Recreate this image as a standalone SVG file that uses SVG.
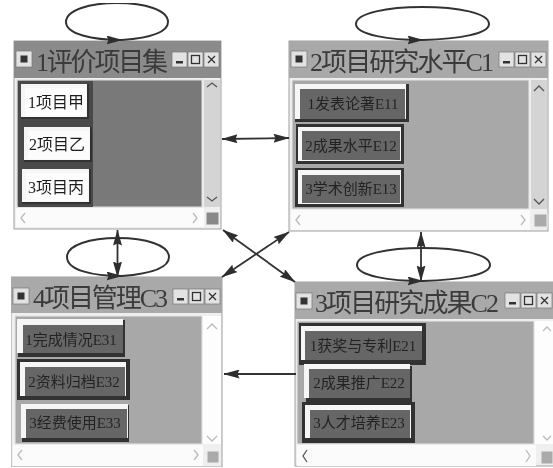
<svg xmlns="http://www.w3.org/2000/svg" xmlns:xlink="http://www.w3.org/1999/xlink" width="553" height="468" viewBox="0 0 553 468">
<style>
.frame{fill:#efefef;stroke:#a0a0a0;stroke-width:1}
.tbar{fill:#a9a9a9}
.tbar1{fill:#8b8b8b}
.body{fill:#a8a8a8;stroke:#e8e8e8}
.body1{fill:#797979;stroke:#e0e0e0}
.sb{fill:#d4d4d4}
.sbw{fill:#fdfdfd}
.hb{fill:#fbfbfb}
.bd{fill:#333}
.hi{fill:#f6f6f6}
.face{fill:#666}
.facew{fill:#fcfcfc}
.title{font-family:"Liberation Serif","Noto Sans CJK SC",serif;font-size:26px;fill:#3a3a3a}
.lab{font-family:"Liberation Serif","Noto Sans CJK SC",serif;font-size:15px;fill:#242424;text-anchor:middle}
.labw{fill:#1e1e1e;font-size:16px}
.ctl{fill:#e2e2e2;stroke:#777;stroke-width:.7}
.gl{fill:none;stroke:#333;stroke-width:1.3}
.sq{fill:#888;stroke:#eee}
.chev{fill:none;stroke:#555;stroke-width:1.3}
.chevl{fill:none;stroke:#bbb;stroke-width:1.3}
.ln{fill:none;stroke:#333;stroke-width:1.8}
.lp{fill:none;stroke:#333;stroke-width:2}
.hd{fill:#2e2e2e}
</style>
<defs>
<filter id="soft" x="0" y="0" width="1" height="1"><feGaussianBlur stdDeviation="0.4"/></filter>
<marker id="ah" viewBox="0 0 16 9" refX="15.5" refY="4.5" markerWidth="16" markerHeight="9" markerUnits="userSpaceOnUse" orient="auto-start-reverse"><path class="hd" d="M0 0L16 4.500L0 9L2 4.500Z"/></marker>
<g id="ctls">
<rect class="ctl" x="0" y="0" width="15" height="15"/><rect x="4" y="9" width="7" height="2.5" fill="#333"/>
<rect class="ctl" x="16" y="0" width="15" height="15"/><rect class="gl" x="19.5" y="3.5" width="8" height="8"/>
<rect class="ctl" x="32" y="0" width="15" height="15"/><path class="gl" d="M36 4L43 11M43 4L36 11"/>
</g>
<g id="sys"><rect class="ctl" x="0" y="0" width="16" height="16"/><rect x="4.500" y="4.500" width="7" height="7" fill="#333"/></g>
</defs>
<rect width="553" height="468" fill="#fff"/>
<g filter="url(#soft)">
<g id="node-1">
<rect class="frame" x="14" y="41" width="207" height="188"/>
<rect class="tbar1" x="14" y="41" width="207" height="37"/>
<use href="#sys" x="16" y="51"/>
<text class="title" x="36" y="71" textLength="132">1评价项目集</text>
<use href="#ctls" x="172" y="52"/>
<rect class="body1" x="17" y="80" width="185" height="127"/>
<rect x="18" y="81" width="75" height="126" fill="#4a4a4a"/>
<rect class="sb" x="204" y="80" width="16" height="127"/>
<rect class="hb" x="16" y="208" width="188" height="19"/>
<path class="chev" d="M207 87L212 83L217 87M207 197L212 201L217 197"/>
<path class="chevl" d="M25 213L21 218L25 223M193 213L197 218L193 223"/>
<rect class="sq" x="206" y="212" width="13" height="13"/>
<rect class="bd" x="21" y="84" width="68" height="35"/><rect class="hi" x="21" y="84" width="66" height="33"/><rect class="facew" x="25" y="88" width="61" height="28"/>
<text class="lab labw" x="56" y="108">1项目甲</text>
<rect class="bd" x="24" y="127" width="68" height="35"/><rect class="hi" x="24" y="127" width="66" height="33"/><rect class="facew" x="28" y="131" width="61" height="28"/>
<text class="lab labw" x="57" y="150">2项目乙</text>
<rect class="bd" x="22" y="169" width="69" height="35"/><rect class="hi" x="22" y="169" width="67" height="33"/><rect class="facew" x="26" y="173" width="62" height="28"/>
<text class="lab labw" x="56" y="193">3项目丙</text>
</g>
<g id="node-2">
<rect class="frame" x="289" y="41" width="259" height="190"/>
<rect class="tbar" x="289" y="41" width="259" height="37"/>
<use href="#sys" x="291" y="51"/>
<text class="title" x="310" y="71" textLength="184">2项目研究水平C1</text>
<use href="#ctls" x="499" y="52"/>
<rect class="body" x="292" y="80" width="237" height="129"/>
<rect class="sb" x="531" y="80" width="16" height="129"/>
<rect class="hb" x="291" y="210" width="239" height="20"/>
<path class="chev" d="M534 91L539 86L544 91M534 199L539 204L544 199"/>
<path class="chevl" d="M300 215L296 220L300 225M521 215L525 220L521 225"/>
<rect class="sq" x="534" y="214" width="13" height="13" style="fill:#aaa"/>
<rect class="bd" x="295" y="84" width="114" height="38"/><rect class="hi" x="295" y="84" width="111" height="35"/><rect class="face" x="300" y="89" width="105" height="30"/>
<text class="lab" x="353" y="109">1发表论著E11</text>
<rect class="bd" x="296" y="124" width="108" height="40"/><rect class="hi" x="298" y="127" width="103" height="34"/><rect class="face" x="302" y="131" width="98" height="29"/>
<text class="lab" x="351" y="151">2成果水平E12</text>
<rect class="bd" x="295" y="168" width="109" height="39"/><rect class="hi" x="298" y="170" width="103" height="34"/><rect class="face" x="302" y="175" width="98" height="28"/>
<text class="lab" x="351" y="194">3学术创新E13</text>
</g>
<g id="node-4">
<rect class="frame" x="11" y="277" width="211" height="190"/>
<rect class="tbar" x="11" y="277" width="211" height="36"/>
<use href="#sys" x="13" y="288"/>
<text class="title" x="33" y="307" textLength="135">4项目管理C3</text>
<use href="#ctls" x="173" y="289"/>
<rect class="body" x="15" y="316" width="187" height="128"/>
<rect class="sbw" x="203" y="316" width="18" height="128"/>
<rect class="hb" x="13" y="445" width="190" height="21"/>
<path class="chevl" d="M207 329L212 324L217 329M207 436L212 441L217 436"/>
<path class="chevl" d="M22 450L18 455L22 460M194 450L198 455L194 460"/>
<rect class="sq" x="207" y="451" width="12" height="12" style="fill:#aaa"/>
<rect class="bd" x="18" y="320" width="107" height="37"/><rect class="hi" x="17" y="319" width="106" height="34"/><rect class="face" x="23" y="325" width="100" height="28"/>
<text class="lab" x="71" y="345">1完成情况E31</text>
<rect class="bd" x="17" y="359" width="113" height="41"/><rect class="hi" x="20" y="362" width="106" height="34"/><rect class="face" x="25" y="367" width="100" height="29"/>
<text class="lab" x="74" y="387">2资料归档E32</text>
<rect class="bd" x="22" y="405" width="107" height="37"/><rect class="hi" x="21" y="404" width="107" height="34"/><rect class="face" x="26" y="409" width="101" height="29"/>
<text class="lab" x="75" y="428">3经费使用E33</text>
</g>
<g id="node-3">
<rect class="frame" x="295" y="282" width="259" height="184"/>
<rect class="tbar" x="295" y="282" width="258" height="37"/>
<use href="#sys" x="296" y="293"/>
<text class="title" x="315" y="312" textLength="184">3项目研究成果C2</text>
<use href="#ctls" x="505" y="293"/>
<rect class="body" x="297" y="321" width="237" height="123"/>
<rect class="sbw" x="535" y="321" width="18" height="123"/>
<rect class="hb" x="297" y="445" width="239" height="21"/>
<path class="chevl" d="M543 331L547 327L551 331M543 436L547 440L551 436"/>
<path class="chev" d="M307 450L303 456L307 462"/>
<path class="chevl" d="M526 450L530 456L526 462"/>
<rect class="sq" x="541" y="451" width="12" height="13" style="fill:#aaa"/>
<rect class="bd" x="299" y="323" width="127" height="42"/><rect class="hi" x="301" y="326" width="121" height="34"/><rect class="face" x="305" y="331" width="117" height="29"/>
<text class="lab" x="363" y="351">1获奖与专利E21</text>
<rect class="bd" x="306" y="366" width="106" height="36"/><rect class="hi" x="304" y="364" width="106" height="34"/><rect class="face" x="309" y="369" width="101" height="29"/>
<text class="lab" x="359" y="388">2成果推广E22</text>
<rect class="bd" x="302" y="402" width="113" height="41"/><rect class="hi" x="305" y="405" width="106" height="33"/><rect class="face" x="310" y="410" width="100" height="28"/>
<text class="lab" x="359" y="428">3人才培养E23</text>
</g>
<g id="connectors">
<path class="lp" d="M122 40C92 40 66 34 66 22C66 10 90 3 117 3C145 3 168 10 168 22C168 33 148 38 122 40" marker-start="url(#ah)"/>
<path class="lp" d="M423 40C390 40 356 35 356 24C356 13 388 7 422 7C458 7 489 13 489 24C489 34 458 39 423 40" marker-start="url(#ah)"/>
<path class="lp" d="M122 276C92 276 67 270 67 257C67 245 90 238 118 238C145 238 169 245 169 257C169 269 148 274 122 276" marker-start="url(#ah)"/>
<path class="lp" d="M423 281C390 281 357 276 357 265C357 254 388 248 423 248C458 248 490 254 490 265C490 275 458 280 423 281" marker-start="url(#ah)"/>
<path class="ln" d="M222 139L289 138" marker-start="url(#ah)" marker-end="url(#ah)"/>
<path class="ln" d="M117.500 230L117.500 277" marker-start="url(#ah)" marker-end="url(#ah)"/>
<path class="ln" d="M421 232L421 281" marker-start="url(#ah)" marker-end="url(#ah)"/>
<path class="ln" d="M223 230L295 282" marker-start="url(#ah)" marker-end="url(#ah)"/>
<path class="ln" d="M222 277L289 232" marker-start="url(#ah)" marker-end="url(#ah)"/>
<path class="ln" d="M296 374L224 374" marker-end="url(#ah)"/>
</g>
</g>
</svg>
